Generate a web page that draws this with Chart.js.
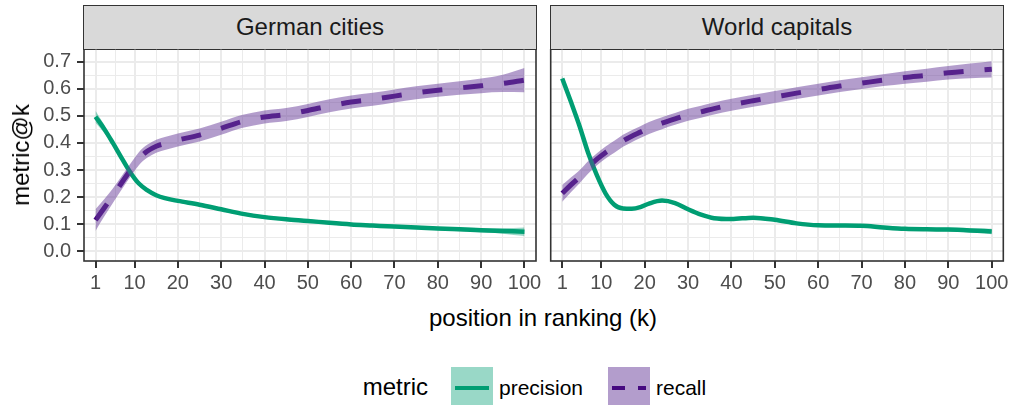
<!DOCTYPE html>
<html>
<head>
<meta charset="utf-8">
<script src="https://cdn.jsdelivr.net/npm/chart.js@4"></script>
<style>
  html, body { margin: 0; padding: 0; }
  body { width: 1011px; height: 405px; background: #fff; position: relative; overflow: hidden;
         font-family: "Liberation Sans", Arial, Helvetica, sans-serif; }
  canvas { position: absolute; left: 0; top: 49px; }
  .strip { position: absolute; top: 5px; height: 44.8px; box-sizing: border-box;
           background: #d9d9d9; border: 1.6px solid #333; color: #1a1a1a;
           font-size: 24px; display: flex; align-items: center; justify-content: center; }
  .txt { position: absolute; white-space: nowrap; color: #000; }
  .key { position: absolute; top: 366.7px; width: 41.7px; height: 41.7px; }
  .seg { position: absolute; height: 4px; top: 19px; }
</style>
</head>
<body>
<div class="strip" style="left:83.2px;width:453.6px;">German cities</div>
<div class="strip" style="left:549.9px;width:454.2px;">World capitals</div>

<canvas id="german" width="1011" height="240"></canvas>
<canvas id="world" width="1011" height="240"></canvas>

<div class="txt" style="left:429px;top:306px;font-size:24px;line-height:24px;">position in ranking (k)</div>
<div class="txt" style="left:21px;top:155px;font-size:24px;line-height:24px;transform:translate(-50%,-50%) rotate(-90deg);">metric@k</div>

<!-- legend -->
<div class="txt" style="left:362.7px;top:374.7px;font-size:24px;line-height:24px;">metric</div>
<div class="key" style="left:451px;background:#99d8c7;">
  <div class="seg" style="left:4px;width:34px;background:#009e73;"></div>
</div>
<div class="txt" style="left:499px;top:377.2px;font-size:21px;line-height:21px;">precision</div>
<div class="key" style="left:608.3px;background:#b39dcc;">
  <div class="seg" style="left:3.4px;width:13.3px;background:#45097f;"></div>
  <div class="seg" style="left:29.4px;width:8.3px;background:#45097f;"></div>
</div>
<div class="txt" style="left:656px;top:377.2px;font-size:21px;line-height:21px;">recall</div>

<script>
// ---- data: smoothed precision@k / recall@k with standard-error bands ----
const kGerman = [1, 3, 5, 7, 9, 11, 13, 15, 17, 20, 25, 30, 35, 40, 45, 50, 55, 60, 65, 70, 75, 80, 85, 90, 95, 100];
const precisionGerman = [0.497, 0.452, 0.400, 0.345, 0.292, 0.250, 0.225, 0.207, 0.196, 0.186, 0.172, 0.155, 0.138, 0.126, 0.118, 0.112, 0.105, 0.099, 0.095, 0.091, 0.088, 0.084, 0.081, 0.078, 0.075, 0.072];
const precisionGermanSE = [0.022, 0.015, 0.010, 0.008, 0.007, 0.006, 0.006, 0.006, 0.006, 0.006, 0.006, 0.006, 0.006, 0.006, 0.006, 0.006, 0.006, 0.006, 0.006, 0.006, 0.006, 0.006, 0.007, 0.008, 0.010, 0.016];
const recallGerman = [0.115, 0.160, 0.205, 0.252, 0.298, 0.342, 0.370, 0.388, 0.398, 0.411, 0.429, 0.454, 0.480, 0.496, 0.505, 0.520, 0.537, 0.551, 0.561, 0.573, 0.585, 0.595, 0.603, 0.611, 0.620, 0.632];
const recallGermanSE = [0.040, 0.032, 0.027, 0.025, 0.024, 0.024, 0.024, 0.024, 0.024, 0.024, 0.024, 0.024, 0.024, 0.024, 0.024, 0.024, 0.024, 0.024, 0.024, 0.024, 0.024, 0.024, 0.025, 0.027, 0.032, 0.045];

const kWorld = [1, 3, 5, 7, 9, 11, 13, 15, 17, 19, 21, 24, 27, 30, 33, 36, 40, 45, 50, 55, 60, 65, 70, 75, 80, 85, 90, 95, 100];
const precisionWorld = [0.638, 0.552, 0.462, 0.362, 0.280, 0.213, 0.172, 0.158, 0.157, 0.163, 0.176, 0.187, 0.178, 0.155, 0.135, 0.122, 0.119, 0.124, 0.116, 0.103, 0.096, 0.095, 0.094, 0.088, 0.083, 0.081, 0.080, 0.077, 0.073];
const precisionWorldSE = [0.012, 0.009, 0.007, 0.006, 0.006, 0.006, 0.006, 0.006, 0.006, 0.006, 0.006, 0.006, 0.006, 0.006, 0.006, 0.006, 0.006, 0.006, 0.006, 0.006, 0.006, 0.006, 0.006, 0.006, 0.006, 0.006, 0.007, 0.008, 0.010];
const recallWorld = [0.214, 0.245, 0.275, 0.310, 0.340, 0.365, 0.386, 0.408, 0.425, 0.440, 0.455, 0.473, 0.489, 0.504, 0.515, 0.527, 0.541, 0.556, 0.570, 0.584, 0.597, 0.610, 0.621, 0.632, 0.642, 0.650, 0.659, 0.666, 0.672];
const recallWorldSE = [0.031, 0.027, 0.024, 0.023, 0.022, 0.022, 0.022, 0.022, 0.022, 0.022, 0.022, 0.022, 0.022, 0.022, 0.022, 0.022, 0.022, 0.022, 0.022, 0.022, 0.022, 0.022, 0.022, 0.022, 0.023, 0.024, 0.025, 0.027, 0.030];

// ---- axes ----
const xTickValues = [1, 10, 20, 30, 40, 50, 60, 70, 80, 90, 100];
const xMinorValues = [5.5, 15, 25, 35, 45, 55, 65, 75, 85, 95];
const yTickValues = [0, 0.1, 0.2, 0.3, 0.4, 0.5, 0.6, 0.7];
const yTickLabels = ['0.0', '0.1', '0.2', '0.3', '0.4', '0.5', '0.6', '0.7'];
const yMinorValues = [0.05, 0.15, 0.25, 0.35, 0.45, 0.55, 0.65];
const xRange = [-1.66, 102.66];
const yRange = [-0.036, 0.747];

const GREEN = '#009e73';
const GREEN_FILL = 'rgba(0,158,115,0.4)';
const PURPLE = '#45097f';
const PURPLE_FILL = 'rgba(103,59,153,0.5)';
const FONT = '"Liberation Sans", Arial, Helvetica, sans-serif';

const isMajorX = v => xTickValues.includes(v);
const isMajorY = v => yTickValues.some(t => Math.abs(t - v) < 1e-9);

function pts(ks, vals, se, sign) {
  return ks.map((k, i) => ({ x: k, y: se ? vals[i] + sign * se[i] : vals[i] }));
}

function datasets(ks, prec, precSE, rec, recSE) {
  const base = { pointRadius: 0, cubicInterpolationMode: 'monotone' };
  return [
    { ...base, data: pts(ks, prec, precSE, 1), borderWidth: 0, fill: false },
    { ...base, data: pts(ks, prec, precSE, -1), borderWidth: 0, fill: '-1', backgroundColor: GREEN_FILL },
    { ...base, data: pts(ks, rec, recSE, 1), borderWidth: 0, fill: false },
    { ...base, data: pts(ks, rec, recSE, -1), borderWidth: 0, fill: '-1', backgroundColor: PURPLE_FILL },
    { ...base, data: pts(ks, prec), borderColor: GREEN, borderWidth: 4.5, fill: false },
    { ...base, data: pts(ks, rec), borderColor: PURPLE, borderWidth: 5, borderDash: [20, 21], fill: false }
  ];
}

const panelBorder = {
  id: 'panelBorder',
  afterDatasetsDraw(chart) {
    const { ctx, chartArea: a } = chart;
    ctx.save();
    ctx.strokeStyle = '#333';
    ctx.lineWidth = 1.6;
    ctx.strokeRect(a.left, a.top, a.right - a.left, a.bottom - a.top);
    ctx.restore();
  }
};

function options(showYLabels, yWidth, rightPad) {
  return {
    responsive: false,
    animation: false,
    devicePixelRatio: 1,
    layout: { padding: { left: 0, right: rightPad, top: 0, bottom: 0 } },
    plugins: { legend: { display: false }, tooltip: { enabled: false } },
    scales: {
      x: {
        type: 'linear', min: xRange[0], max: xRange[1],
        afterBuildTicks: s => { s.ticks = xTickValues.concat(xMinorValues).sort((a, b) => a - b).map(v => ({ value: v })); },
        afterFit: s => { s.height = 28; s.paddingLeft = 0; s.paddingRight = 0; },
        border: { display: false },
        grid: {
          color: '#ebebeb',
          lineWidth: c => (c.tick && isMajorX(c.tick.value)) ? 2 : 1,
          drawTicks: true, tickLength: 7, tickWidth: 2,
          tickColor: c => (c.tick && isMajorX(c.tick.value)) ? '#333' : 'rgba(0,0,0,0)'
        },
        ticks: {
          autoSkip: false, maxRotation: 0, minRotation: 0, padding: 3,
          color: '#4d4d4d', font: { family: FONT, size: 20 },
          callback: v => isMajorX(v) ? String(v) : ''
        }
      },
      y: {
        type: 'linear', min: yRange[0], max: yRange[1],
        afterBuildTicks: s => { s.ticks = yTickValues.concat(yMinorValues).sort((a, b) => a - b).map(v => ({ value: v })); },
        afterFit: s => { s.width = yWidth; s.paddingTop = 0; s.paddingBottom = 0; },
        border: { display: false },
        grid: {
          color: '#ebebeb',
          lineWidth: c => (c.tick && isMajorY(c.tick.value)) ? 2 : 1,
          drawTicks: showYLabels, tickLength: 7, tickWidth: 2,
          tickColor: c => (showYLabels && c.tick && isMajorY(c.tick.value)) ? '#333' : 'rgba(0,0,0,0)'
        },
        ticks: {
          display: showYLabels, autoSkip: false, padding: 6,
          color: '#4d4d4d', font: { family: FONT, size: 20 },
          callback: v => {
            const i = yTickValues.findIndex(t => Math.abs(t - v) < 1e-9);
            return i >= 0 ? yTickLabels[i] : '';
          }
        }
      }
    }
  };
}

new Chart(document.getElementById('german'), {
  type: 'line',
  data: { datasets: datasets(kGerman, precisionGerman, precisionGermanSE, recallGerman, recallGermanSE) },
  options: options(true, 84, 1011 - 536),
  plugins: [panelBorder]
});

new Chart(document.getElementById('world'), {
  type: 'line',
  data: { datasets: datasets(kWorld, precisionWorld, precisionWorldSE, recallWorld, recallWorldSE) },
  options: options(false, 550.7, 1011 - 1003.3),
  plugins: [panelBorder]
});
</script>
</body>
</html>
